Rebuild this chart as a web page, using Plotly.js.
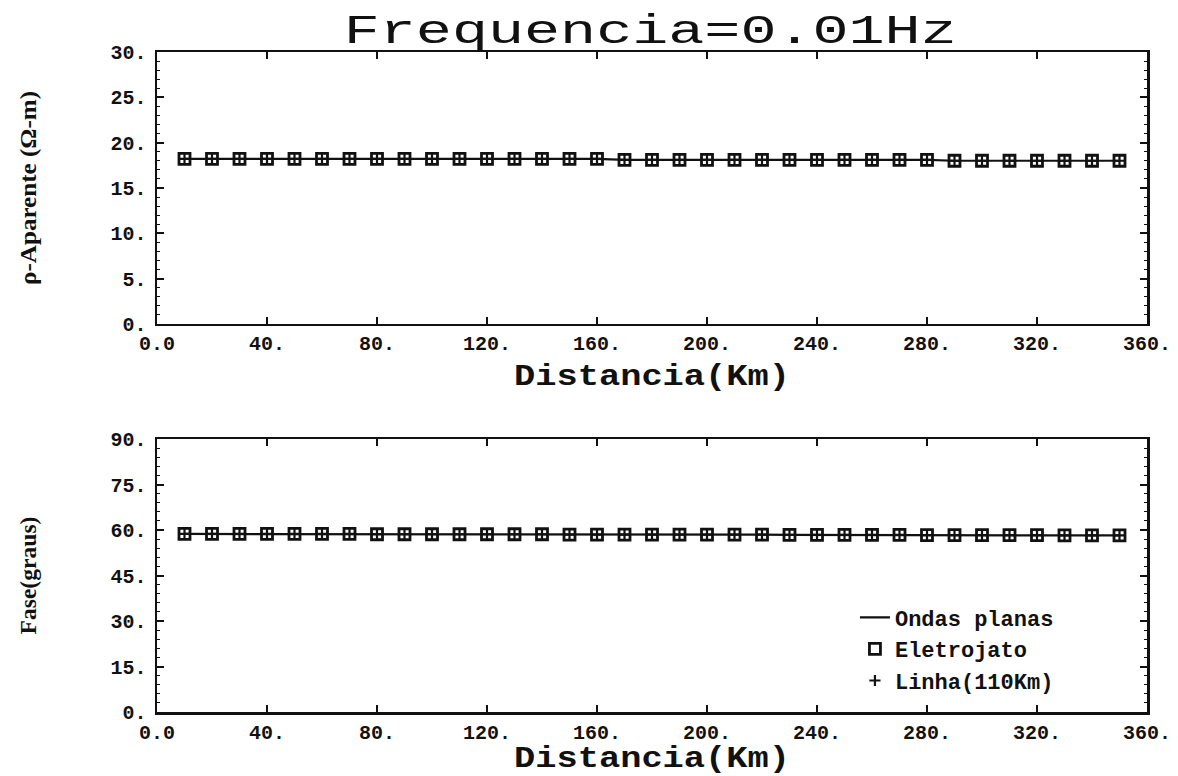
<!DOCTYPE html>
<html>
<head>
<meta charset="utf-8">
<script src="https://cdn.plot.ly/plotly-3.0.1.min.js"></script>
<style>html,body{margin:0;padding:0;background:#fff;}#chart{width:1178px;height:776px;}</style>
</head>
<body>
<div id="chart"></div>
<script>
// ---- data ----
var distancia = [10,20,30,40,50,60,70,80,90,100,110,120,130,140,150,160,170,180,190,200,210,220,230,240,250,260,270,280,290,300,310,320,330,340,350];
var rhoOndas  = [18.2,18.2,18.2,18.2,18.2,18.2,18.2,18.2,18.2,18.2,18.2,18.2,18.2,18.2,18.2,18.2,18.1,18.1,18.1,18.1,18.1,18.1,18.1,18.1,18.1,18.1,18.1,18.1,18.0,18.0,18.0,18.0,18.0,18.0,18.0];
var rhoEletro = [18.2,18.2,18.2,18.2,18.2,18.2,18.2,18.2,18.2,18.2,18.2,18.2,18.2,18.2,18.2,18.2,18.1,18.1,18.1,18.1,18.1,18.1,18.1,18.1,18.1,18.1,18.1,18.1,18.0,18.0,18.0,18.0,18.0,18.0,18.0];
var rhoLinha  = [18.2,18.2,18.2,18.2,18.2,18.2,18.2,18.2,18.2,18.2,18.2,18.2,18.2,18.2,18.2,18.2,18.1,18.1,18.1,18.1,18.1,18.1,18.1,18.1,18.1,18.1,18.1,18.1,18.0,18.0,18.0,18.0,18.0,18.0,18.0];
var faseOndas  = [58.7,58.7,58.7,58.7,58.7,58.7,58.7,58.6,58.6,58.6,58.6,58.6,58.6,58.6,58.5,58.5,58.5,58.5,58.5,58.5,58.5,58.5,58.4,58.4,58.4,58.4,58.4,58.3,58.3,58.3,58.3,58.3,58.2,58.2,58.2];
var faseEletro = [58.7,58.7,58.7,58.7,58.7,58.7,58.7,58.6,58.6,58.6,58.6,58.6,58.6,58.6,58.5,58.5,58.5,58.5,58.5,58.5,58.5,58.5,58.4,58.4,58.4,58.4,58.4,58.3,58.3,58.3,58.3,58.3,58.2,58.2,58.2];
var faseLinha  = [58.7,58.7,58.7,58.7,58.7,58.7,58.7,58.6,58.6,58.6,58.6,58.6,58.6,58.6,58.5,58.5,58.5,58.5,58.5,58.5,58.5,58.5,58.4,58.4,58.4,58.4,58.4,58.3,58.3,58.3,58.3,58.3,58.2,58.2,58.2];
var seriesNames = ["Ondas planas", "Eletrojato", "Linha(110Km)"];
var xTickVals = [0,40,80,120,160,200,240,280,320,360];
var xTickText = ["0.0","40.","80.","120.","160.","200.","240.","280.","320.","360."];
var rhoTickVals = [0,5,10,15,20,25,30];
var rhoTickText = ["0.","5.","10.","15.","20.","25.","30."];
var faseTickVals = [0,15,30,45,60,75,90];
var faseTickText = ["0.","15.","30.","45.","60.","75.","90."];
var titleText = "Frequencia=0.01Hz";
var xTitle = "Distancia(Km)";
var yTitleTop = "ρ-Aparente (Ω-m)";
var yTitleBottom = "Fase(graus)";

// ---- traces ----
var lineStyle = {color:'#111', width:2.2};
var sq = {symbol:'square-open', size:11, color:'#111', line:{color:'#111', width:2.8}};
var cr = {symbol:'cross-thin-open', size:8, color:'#111', line:{color:'#111', width:2.2}};
var traces = [
  {x:distancia, y:rhoOndas, mode:'lines', line:lineStyle, xaxis:'x', yaxis:'y', showlegend:false, name:seriesNames[0]},
  {x:distancia, y:rhoEletro, mode:'markers', marker:sq, xaxis:'x', yaxis:'y', showlegend:false, name:seriesNames[1]},
  {x:distancia, y:rhoLinha, mode:'markers', marker:cr, xaxis:'x', yaxis:'y', showlegend:false, name:seriesNames[2]},
  {x:distancia, y:faseOndas, mode:'lines', line:lineStyle, xaxis:'x2', yaxis:'y2', showlegend:true, name:seriesNames[0]},
  {x:distancia, y:faseEletro, mode:'markers', marker:sq, xaxis:'x2', yaxis:'y2', showlegend:true, name:seriesNames[1]},
  {x:distancia, y:faseLinha, mode:'markers', marker:cr, xaxis:'x2', yaxis:'y2', showlegend:true, name:seriesNames[2]}
];

var tickFont = {family:'Liberation Mono', size:20, color:'#111', weight:'bold'};
function xAxis(anchor, standoff){
  return {range:[0,360], tickvals:xTickVals, ticktext:xTickText, ticks:'inside', ticklen:7, tickwidth:2,
    tickcolor:'#111', showline:true, linewidth:2.5, linecolor:'#111', mirror:'ticks', showgrid:false,
    zeroline:false, tickfont:tickFont, anchor:anchor, automargin:false, ticklabelstandoff:0,
    title:{text:xTitle, font:{family:'Liberation Mono', size:29, color:'#111', weight:'bold'}, standoff:standoff}};
}
function yAxis(anchor, domain, range, vals, text, title, dminor){
  return {domain:domain, range:range, tickvals:vals, ticktext:text, ticks:'inside', ticklen:7, tickwidth:2,
    tickcolor:'#111', showline:true, linewidth:2.5, linecolor:'#111', mirror:'ticks', showgrid:false,
    zeroline:false, tickfont:tickFont, anchor:anchor, automargin:false, ticklabelstandoff:4,
    minor:{ticks:'inside', ticklen:3, tickwidth:1, tickcolor:'#111', dtick:dminor, tick0:0},
    title:{text:title, font:{family:'Liberation Serif', size:23, color:'#111', weight:'bold'}, standoff:68}};
}

var layout = {
  width:1178, height:776,
  margin:{l:157, r:31, t:52, b:64},
  paper_bgcolor:'#fff', plot_bgcolor:'#fff',
  title:{text:titleText, font:{family:'Liberation Mono', size:40, color:'#111'}, x:0.552, xanchor:'center', y:0.963, yanchor:'middle'},
  xaxis: xAxis('y', 10),
  yaxis: yAxis('x', [0.588,1], [0,30], rhoTickVals, rhoTickText, yTitleTop, 1),
  xaxis2: xAxis('y2', 4),
  yaxis2: yAxis('x2', [0,0.4136], [0,90], faseTickVals, faseTickText, yTitleBottom, 3),
  legend:{x:0.705, y:0.175, xanchor:'left', yanchor:'top', bgcolor:'rgba(0,0,0,0)',
    font:{family:'Liberation Mono', size:22, color:'#111', weight:'bold'}, itemwidth:30, tracegroupgap:0},
  showlegend:true
};

Plotly.newPlot('chart', traces, layout, {staticPlot:true, displayModeBar:false}).then(function(gd){
  function stretch(sel, len){
    var els = gd.querySelectorAll(sel);
    els.forEach(function(el){ el.setAttribute('textLength', len); el.setAttribute('lengthAdjust','spacingAndGlyphs'); });
  }
  stretch('.gtitle', 613);
  stretch('.xtitle', 276);
  stretch('.x2title', 276);
  stretch('.ytitle', 194);
  stretch('.y2title', 118);
});
</script>
</body>
</html>
